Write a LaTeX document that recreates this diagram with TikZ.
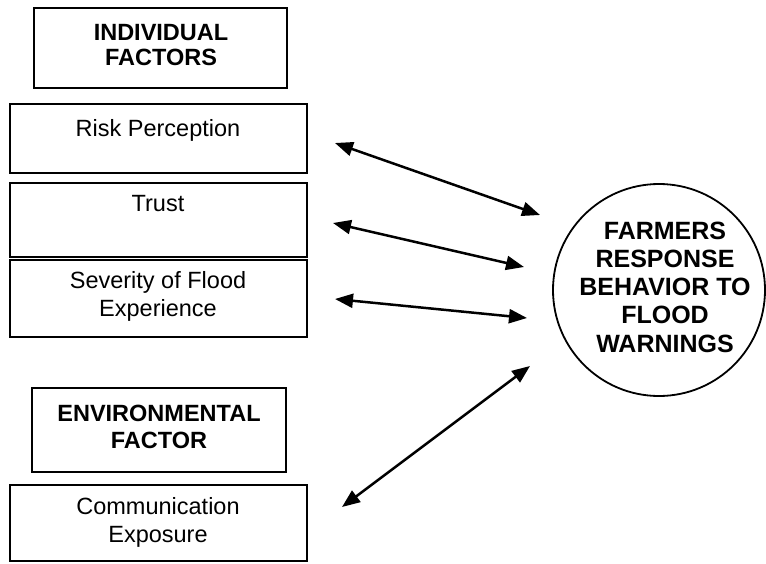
\documentclass[tikz,border=0pt]{standalone}
\usepackage{fontspec}
\setmainfont{Liberation Sans}
\usetikzlibrary{arrows.meta}
\begin{document}
\begin{tikzpicture}[x=1pt,y=-1pt,
  boxed/.style={draw=black,line width=1.5pt,inner sep=0pt},
  txt/.style={font=\fontsize{23.5}{28}\selectfont,align=center,inner sep=0pt},
  head/.style={font=\fontsize{23.5}{25}\selectfont\bfseries,align=center,inner sep=0pt},
  link/.style={line width=2.5pt,{Triangle[length=18pt,width=14pt]}-{Triangle[length=18pt,width=14pt]}}]
\useasboundingbox (0,0) rectangle (766,563);
% boxes
\draw[boxed] (34,8) rectangle (287,88);
\node[head] (ift) at (161,45) {INDIVIDUAL\\FACTORS};
\draw[boxed] (10,104) rectangle (307,173);
\node[txt] (rp) at (158,130) {Risk Perception};
\draw[boxed] (10,183) rectangle (307,257);
\node[txt] (tr) at (158,204) {Trust};
\draw[boxed] (10,260) rectangle (307,337);
\node[txt] (sf) at (158,296) {Severity of Flood\\Experience};
\draw[boxed] (32,388) rectangle (286,472);
\node[head,font=\fontsize{23.5}{27}\selectfont\bfseries] (ef) at (159,427) {ENVIRONMENTAL\\FACTOR};
\draw[boxed] (10,485) rectangle (307,561);
\node[txt] (ce) at (158,522) {Communication\\Exposure};
% circle
\node[draw=black,line width=1.8pt,circle,minimum size=212pt,inner sep=0pt] (fr) at (659,290) {};
\node[head,font=\fontsize{25}{28.3}\selectfont\bfseries] (frt) at (665,287) {FARMERS\\RESPONSE\\BEHAVIOR TO\\FLOOD\\WARNINGS};
% arrow endpoints
\coordinate (a1) at (335,143); \coordinate (b1) at (540,215);
\coordinate (a2) at (333,223); \coordinate (b2) at (524,267);
\coordinate (a3) at (335,299); \coordinate (b3) at (527,318);
\coordinate (a4) at (342,507); \coordinate (b4) at (530,366);
\draw[link] (a1) -- (b1);
\draw[link] (a2) -- (b2);
\draw[link] (a3) -- (b3);
\draw[link] (a4) -- (b4);
\end{tikzpicture}
\end{document}
